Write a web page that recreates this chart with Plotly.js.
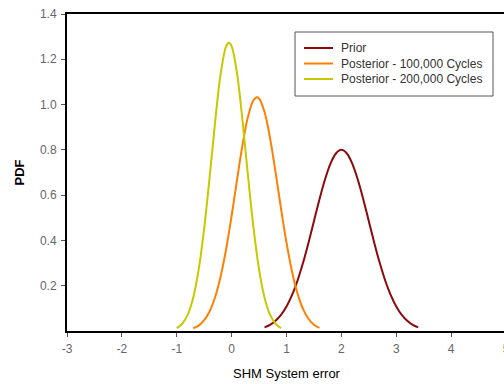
<!DOCTYPE html>
<html>
<head>
<meta charset="utf-8">
<script src="https://cdn.plot.ly/plotly-3.0.1.min.js"></script>
<style>
html,body{margin:0;padding:0;overflow:hidden;background:#fff;}
#chart{width:506px;height:384px;}
</style>
</head>
<body>
<div id="chart"></div>
<script>
// Series names
const seriesNames = ["Prior", "Posterior - 100,000 Cycles", "Posterior - 200,000 Cycles"];
const seriesColors = ["#8B0A0A", "#FF8000", "#C8C800"];

// Prior
const priorX = [0.6,0.7,0.8,0.9,1.0,1.1,1.2,1.3,1.4,1.5,1.6,1.7,1.8,1.9,2.0,2.1,2.2,2.3,2.4,2.5,2.6,2.7,2.8,2.9,3.0,3.1,3.2,3.3,3.4];
const priorY = [0.016,0.027,0.045,0.071,0.108,0.158,0.222,0.300,0.389,0.485,0.581,0.668,0.738,0.784,0.800,0.784,0.738,0.668,0.581,0.485,0.389,0.300,0.222,0.158,0.108,0.071,0.045,0.027,0.016];

// Posterior - 100,000 Cycles
const post100X = [-0.7,-0.6,-0.5,-0.4,-0.3,-0.2,-0.1,0.0,0.1,0.2,0.3,0.4,0.46,0.5,0.6,0.7,0.8,0.9,1.0,1.1,1.2,1.3,1.4,1.5,1.6];
const post100Y = [0.012,0.024,0.048,0.087,0.150,0.241,0.362,0.509,0.670,0.824,0.948,1.020,1.032,1.027,0.967,0.852,0.702,0.541,0.390,0.263,0.166,0.098,0.054,0.028,0.014];

// Posterior - 200,000 Cycles
const post200X = [-1.0,-0.9,-0.8,-0.7,-0.6,-0.5,-0.4,-0.3,-0.2,-0.1,-0.05,0.0,0.1,0.2,0.3,0.4,0.5,0.6,0.7,0.8,0.9];
const post200Y = [0.013,0.032,0.072,0.147,0.272,0.453,0.681,0.925,1.135,1.257,1.273,1.257,1.135,0.925,0.681,0.453,0.272,0.147,0.072,0.032,0.013];

// Axis ticks
const xTicks = [-3,-2,-1,0,1,2,3,4,5];
const yTicks = [0.2,0.4,0.6,0.8,1.0,1.2,1.4];
const yTickText = ["0.2","0.4","0.6","0.8","1.0","1.2","1.4"];

const xs = [priorX, post100X, post200X];
const ys = [priorY, post100Y, post200Y];

const traces = xs.map((x, i) => ({
  x: x, y: ys[i], type: "scatter", mode: "lines",
  name: seriesNames[i],
  line: {color: seriesColors[i], width: 2, shape: "spline", smoothing: 1},
  showlegend: false, hoverinfo: "skip"
}));

const FONT = "Liberation Sans, Arial, sans-serif";

// manual legend (paper coordinates)
const legBox = {x0: 0.5194, x1: 0.9704, y0: 0.7413, y1: 0.9432};
const legRowsY = [0.8927, 0.8438, 0.7950];
const shapes = [{
  type: "rect", xref: "paper", yref: "paper",
  x0: legBox.x0, x1: legBox.x1, y0: legBox.y0, y1: legBox.y1,
  line: {color: "#555555", width: 1}, fillcolor: "#ffffff"
}];
const annotations = [];
seriesNames.forEach((n, i) => {
  shapes.push({type: "line", xref: "paper", yref: "paper",
    x0: 0.5399, x1: 0.6059, y0: legRowsY[i], y1: legRowsY[i],
    line: {color: seriesColors[i], width: 2}});
  annotations.push({xref: "paper", yref: "paper", x: 0.6196, y: legRowsY[i],
    xanchor: "left", yanchor: "middle", showarrow: false, text: n,
    font: {family: FONT, size: 12, color: "#333333"}});
});

const layout = {
  width: 506, height: 384,
  margin: {l: 67, r: 0, t: 14, b: 53, pad: 0},
  paper_bgcolor: "#ffffff", plot_bgcolor: "#ffffff",
  font: {family: FONT, size: 12, color: "#666666"},
  xaxis: {
    range: [-3, 5], tickvals: xTicks, ticktext: xTicks.map(String),
    showgrid: false, zeroline: false,
    showline: true, linecolor: "#000000", linewidth: 2, mirror: true,
    ticks: "outside", ticklen: 4, tickcolor: "#555555", tickwidth: 1,
    ticklabeloverflow: "allow", ticklabelstandoff: 2,
    tickfont: {family: FONT, size: 12, color: "#666666"},
    title: {text: "SHM System error", font: {family: FONT, size: 13, color: "#000000"}, standoff: 13},
    automargin: false
  },
  yaxis: {
    range: [0, 1.4], tickvals: yTicks, ticktext: yTickText,
    showgrid: false, zeroline: false,
    showline: true, linecolor: "#000000", linewidth: 2, mirror: true,
    ticks: "outside", ticklen: 4, tickcolor: "#555555", tickwidth: 1,
    ticklabelstandoff: 2,
    tickfont: {family: FONT, size: 12, color: "#666666"},
    title: {text: "<b>PDF</b>", font: {family: FONT, size: 13, color: "#000000"}, standoff: 12},
    automargin: false
  },
  shapes: shapes,
  annotations: annotations,
  showlegend: false
};

Plotly.newPlot("chart", traces, layout, {displayModeBar: false, staticPlot: true});
</script>
</body>
</html>
